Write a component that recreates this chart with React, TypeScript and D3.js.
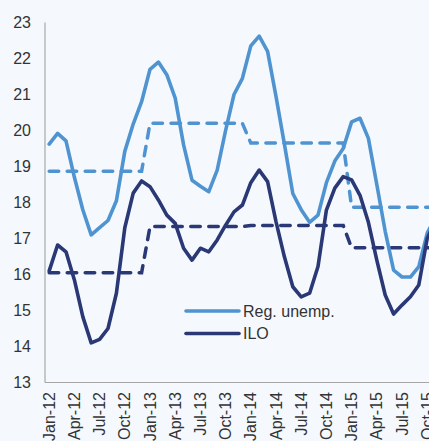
import React from "react";
import * as d3 from "d3";

const months: string[] = [
  "Jan-12","Feb-12","Mar-12","Apr-12","May-12","Jun-12","Jul-12","Aug-12","Sep-12","Oct-12","Nov-12","Dec-12",
  "Jan-13","Feb-13","Mar-13","Apr-13","May-13","Jun-13","Jul-13","Aug-13","Sep-13","Oct-13","Nov-13","Dec-13",
  "Jan-14","Feb-14","Mar-14","Apr-14","May-14","Jun-14","Jul-14","Aug-14","Sep-14","Oct-14","Nov-14","Dec-14",
  "Jan-15","Feb-15","Mar-15","Apr-15","May-15","Jun-15","Jul-15","Aug-15","Sep-15","Oct-15","Nov-15","Dec-15",
];

const tickLabels: string[] = [
  "Jan-12","Apr-12","Jul-12","Oct-12","Jan-13","Apr-13","Jul-13","Oct-13",
  "Jan-14","Apr-14","Jul-14","Oct-14","Jan-15","Apr-15","Jul-15","Oct-15",
];

const regUnemp: number[] = [
  19.62, 19.92, 19.71, 18.7, 17.8, 17.1, 17.3, 17.5, 18.05, 19.42, 20.18, 20.8,
  21.7, 21.9, 21.55, 20.9, 19.6, 18.62, 18.45, 18.3, 18.9, 20.0, 21.0, 21.45,
  22.35, 22.62, 22.2, 20.95, 19.62, 18.25, 17.8, 17.45, 17.65, 18.55, 19.15, 19.5,
  20.24, 20.34, 19.78, 18.5, 17.2, 16.12, 15.93, 15.93, 16.22, 17.15, 17.6,
];

const ilo: number[] = [
  16.1, 16.82, 16.63, 15.85, 14.83, 14.1, 14.2, 14.5, 15.48, 17.3, 18.26, 18.6,
  18.44, 18.07, 17.65, 17.42, 16.73, 16.4, 16.73, 16.63, 16.96, 17.37, 17.74, 17.93,
  18.55, 18.9, 18.58, 17.47, 16.49, 15.66, 15.38, 15.48, 16.22, 17.79, 18.4, 18.72,
  18.63, 18.2, 17.45, 16.4, 15.43, 14.9, 15.15, 15.38, 15.71, 17.0, 17.5,
];

const years: string[] = ["12", "13", "14", "15"];
const regAvg: number[] = [18.87, 20.2, 19.65, 17.87];
const iloAvg: number[] = [16.05, 17.33, 17.36, 16.74];

const yTicks: number[] = [13, 14, 15, 16, 17, 18, 19, 20, 21, 22, 23];

const W = 429;
const H = 441;
const LIGHT = "#4f94d0";
const DARK = "#2a3875";
const FONT = "'Liberation Sans', Arial, sans-serif";

export default function App() {
  const x = d3.scaleBand<string>().domain(months).range([45, 45 + 8.4 * months.length]);
  const y = d3.scaleLinear().domain([13, 23]).range([382.5, 22.5]);
  const cx = (m: string) => (x(m) as number) + x.bandwidth() / 2;

  const line = d3
    .line<[string, number]>()
    .x((d) => cx(d[0]))
    .y((d) => y(d[1]));

  const regPts: [string, number][] = regUnemp.map((v, i) => [months[i], v]);
  const iloPts: [string, number][] = ilo.map((v, i) => [months[i], v]);
  const expand = (avg: number[]): [string, number][] =>
    months.map((m) => [m, avg[years.indexOf(m.slice(4))]]);

  const dash = "9.5 8.5";

  return (
    <svg
      width={W}
      height={H}
      style={{ position: "absolute", left: 0, top: 0, background: "#f5f9fe" }}
      fontFamily={FONT}
    >
      <rect x={0} y={0} width={W} height={H} fill="#f5f9fe" />
      {/* axes */}
      <line x1={45} x2={45} y1={y(23)} y2={y(13)} stroke="#a6a6a6" strokeWidth={1.2} />
      <line x1={45} x2={W} y1={y(13)} y2={y(13)} stroke="#a6a6a6" strokeWidth={1.2} />
      {yTicks.map((t) => (
        <text key={t} x={31} y={y(t)} dy="0.35em" textAnchor="end" fontSize={16} fill="#333">
          {t}
        </text>
      ))}
      {tickLabels.map((m) => (
        <text
          key={m}
          transform={`translate(${cx(m)},392) rotate(-90)`}
          dy="0.35em"
          textAnchor="end"
          fontSize={16}
          fill="#333"
        >
          {m}
        </text>
      ))}
      {/* dashed annual averages */}
      <path d={line(expand(regAvg)) || ""} fill="none" stroke={LIGHT} strokeWidth={3.5} strokeDasharray={dash} strokeLinecap="round" />
      <path d={line(expand(iloAvg)) || ""} fill="none" stroke={DARK} strokeWidth={3.5} strokeDasharray={dash} strokeLinecap="round" />
      {/* solid series */}
      <path d={line(regPts) || ""} fill="none" stroke={LIGHT} strokeWidth={3.6} strokeLinejoin="round" strokeLinecap="round" />
      <path d={line(iloPts) || ""} fill="none" stroke={DARK} strokeWidth={3.6} strokeLinejoin="round" strokeLinecap="round" />
      {/* legend */}
      <line x1={186} x2={239} y1={311} y2={311} stroke={LIGHT} strokeWidth={3.6} strokeLinecap="round" />
      <text x={243} y={311} dy="0.35em" fontSize={16} fill="#333">Reg. unemp.</text>
      <line x1={186} x2={239} y1={333.5} y2={333.5} stroke={DARK} strokeWidth={3.6} strokeLinecap="round" />
      <text x={243} y={333.5} dy="0.35em" fontSize={16} fill="#333">ILO</text>
    </svg>
  );
}
